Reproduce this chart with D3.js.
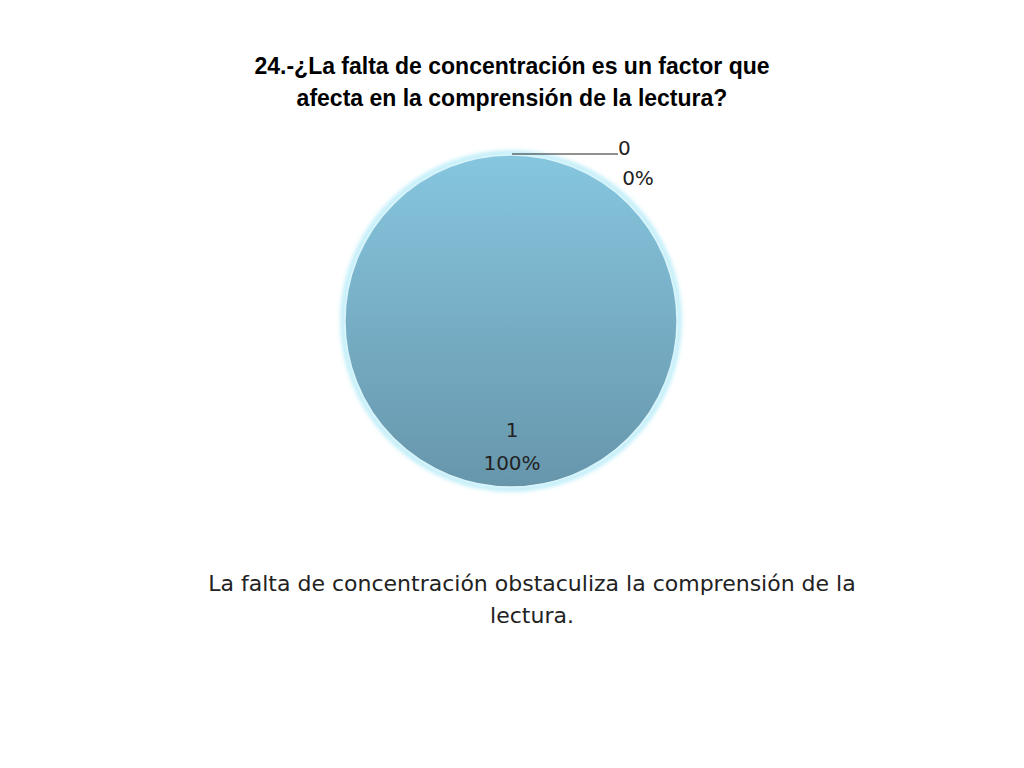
<!DOCTYPE html>
<html><head><meta charset="utf-8">
<script src="https://cdn.jsdelivr.net/npm/d3@7"></script>
<style>body{margin:0;background:#fff}</style></head>
<body><svg id="c" width="1024" height="768"></svg>
<script>
const categories=["0","1"];
const values=[0,1];
const percentLabels=["0%","100%"];
const titleLines=["24.-¿La falta de concentración es un factor que","afecta en la comprensión de la lectura?"];
const captionLines=["La falta de concentración obstaculiza la comprensión de la","lectura."];

const svg=d3.select("#c");
const cx=511,cy=321,r=166;
const defs=svg.append("defs");
const g1=defs.append("linearGradient").attr("id","fill").attr("x1",0).attr("y1",0).attr("x2",0).attr("y2",1);
g1.append("stop").attr("offset","0%").attr("stop-color","#86c6df");
g1.append("stop").attr("offset","100%").attr("stop-color","#6796ab");
const f=defs.append("filter").attr("id","glow").attr("x","-10%").attr("y","-10%").attr("width","120%").attr("height","120%");
f.append("feGaussianBlur").attr("stdDeviation",2);

svg.selectAll("text.t").data(titleLines).join("text")
 .attr("x",512).attr("y",(d,i)=>74+i*32).attr("text-anchor","middle")
 .attr("font-family","Liberation Sans, Arial").attr("font-weight","bold").attr("font-size",23).text(d=>d);

const pie=d3.pie().sort(null)(values);
const arc=d3.arc().innerRadius(0).outerRadius(r);
const gp=svg.append("g").attr("transform",`translate(${cx},${cy})`);
gp.append("circle").attr("r",r+2).attr("fill","none").attr("stroke","#b8ecf8").attr("stroke-width",5).attr("filter","url(#glow)");
gp.selectAll("path").data(pie).join("path").attr("d",arc).attr("fill","url(#fill)").attr("stroke","#d9f4fb").attr("stroke-width",1.5);

const font="Century Gothic, DejaVu Sans, sans-serif";
// label for 0 slice with leader line
svg.append("line").attr("x1",512).attr("y1",154).attr("x2",618).attr("y2",154).attr("stroke","#222").attr("stroke-width",1);
svg.append("text").attr("x",618).attr("y",155).attr("font-family",font).attr("font-size",20).attr("fill","#222").text(categories[0]);
svg.append("text").attr("x",638).attr("y",185).attr("text-anchor","middle").attr("font-family",font).attr("font-size",20).attr("fill","#222").text(percentLabels[0]);
// label for 1 slice
svg.append("text").attr("x",512).attr("y",437).attr("text-anchor","middle").attr("font-family",font).attr("font-size",20).attr("fill","#222").text(categories[1]);
svg.append("text").attr("x",512).attr("y",470).attr("text-anchor","middle").attr("font-family",font).attr("font-size",20).attr("fill","#222").text(percentLabels[1]);

svg.selectAll("text.c").data(captionLines).join("text")
 .attr("x",532).attr("y",(d,i)=>591+i*32).attr("text-anchor","middle")
 .attr("font-family",font).attr("font-size",22).attr("fill","#222").text(d=>d);
</script></body></html>
